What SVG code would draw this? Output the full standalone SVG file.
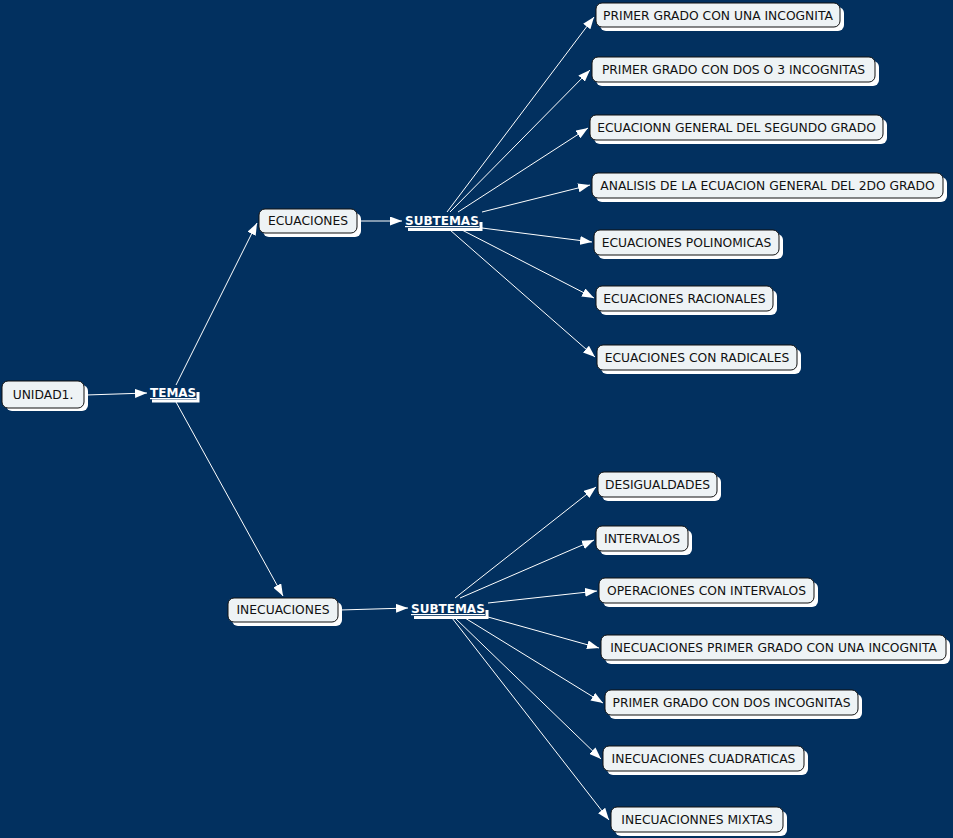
<svg xmlns="http://www.w3.org/2000/svg" width="953" height="838" viewBox="0 0 953 838">
<defs>
<marker id="ah" markerWidth="12" markerHeight="9" refX="12" refY="4.5" orient="auto" markerUnits="userSpaceOnUse">
<path d="M0,0 L12,4.5 L0,9 z" fill="#ffffff"/>
</marker>
<style>
.sh{fill:#ffffff}
.bx{fill:#eef3f5;stroke:#111111;stroke-width:1}
.t{font-family:"DejaVu Sans",Verdana,sans-serif;font-size:12.3px;fill:#111111;text-anchor:middle}
.h{font-family:"DejaVu Sans",Verdana,sans-serif;font-size:12px;font-weight:bold;fill:#ffffff;text-decoration:underline}
.hs{fill:none;stroke:#ffffff;stroke-width:3}
.c line{stroke:#ffffff;stroke-width:1;marker-end:url(#ah)}
</style>
</defs>
<rect width="953" height="838" fill="#02305f"/>
<g class="c" id="connectors">
<line x1="86" y1="395" x2="147" y2="393"/>
<line x1="176" y1="385" x2="257" y2="223"/>
<line x1="176" y1="402" x2="283" y2="596"/>
<line x1="358" y1="221" x2="402" y2="221"/>
<line x1="340" y1="610" x2="408" y2="608"/>
<line x1="447" y1="212" x2="594" y2="17"/>
<line x1="450" y1="212" x2="590" y2="70"/>
<line x1="458" y1="212" x2="588" y2="128"/>
<line x1="482" y1="212" x2="590" y2="185"/>
<line x1="482" y1="228" x2="592" y2="242"/>
<line x1="462" y1="230" x2="594" y2="298"/>
<line x1="450" y1="230" x2="595" y2="357"/>
<line x1="455" y1="598" x2="596" y2="487"/>
<line x1="460" y1="598" x2="594" y2="540"/>
<line x1="488" y1="603" x2="597" y2="591"/>
<line x1="488" y1="617" x2="599" y2="648"/>
<line x1="465" y1="618" x2="603" y2="703"/>
<line x1="455" y1="618" x2="601" y2="759"/>
<line x1="452" y1="618" x2="609" y2="820"/>
</g>
<g id="unidad1"><rect class="sh" x="6" y="385" width="82" height="26" rx="6"/><rect class="bx" x="2" y="381" width="82" height="27" rx="6"/><text class="t" x="43" y="399">UNIDAD1.</text></g>
<g id="temas"><text class="h" x="150" y="397">TEMAS</text><polyline class="hs" points="152,401 198,401 198,392"/></g>
<g id="ecuaciones"><rect class="sh" x="263" y="213" width="98" height="24" rx="6"/><rect class="bx" x="259" y="209" width="98" height="24" rx="6"/><text class="t" x="308" y="225">ECUACIONES</text></g>
<g id="subtemas1"><text class="h" x="405" y="225">SUBTEMAS</text><polyline class="hs" points="408,229.5 481,229.5 481,222"/></g>
<g id="inecuaciones"><rect class="sh" x="232" y="602" width="110" height="24" rx="6"/><rect class="bx" x="228" y="598" width="110" height="24" rx="6"/><text class="t" x="283" y="614">INECUACIONES</text></g>
<g id="subtemas2"><text class="h" x="411" y="613">SUBTEMAS</text><polyline class="hs" points="414,617.5 487,617.5 487,610"/></g>
<g id="n1"><rect class="sh" x="600" y="7" width="244" height="24" rx="6"/><rect class="bx" x="596" y="3" width="244" height="24" rx="6"/><text class="t" x="718" y="19.5">PRIMER GRADO CON UNA INCOGNITA</text></g>
<g id="n2"><rect class="sh" x="596" y="61" width="283" height="25" rx="6"/><rect class="bx" x="592" y="57" width="283" height="25" rx="6"/><text class="t" x="733.5" y="74">PRIMER GRADO CON DOS O 3 INCOGNITAS</text></g>
<g id="n3"><rect class="sh" x="594" y="119" width="293" height="25" rx="6"/><rect class="bx" x="590" y="115" width="293" height="25" rx="6"/><text class="t" x="736.5" y="132">ECUACIONN GENERAL DEL SEGUNDO GRADO</text></g>
<g id="n4"><rect class="sh" x="596" y="177" width="351" height="25" rx="6"/><rect class="bx" x="592" y="173" width="351" height="25" rx="6"/><text class="t" x="767.5" y="190">ANALISIS DE LA ECUACION GENERAL DEL 2DO GRADO</text></g>
<g id="n5"><rect class="sh" x="598" y="234" width="185" height="25" rx="6"/><rect class="bx" x="594" y="230" width="185" height="25" rx="6"/><text class="t" x="686.5" y="247">ECUACIONES POLINOMICAS</text></g>
<g id="n6"><rect class="sh" x="600" y="290" width="177" height="25" rx="6"/><rect class="bx" x="596" y="286" width="177" height="25" rx="6"/><text class="t" x="684.5" y="303">ECUACIONES RACIONALES</text></g>
<g id="n7"><rect class="sh" x="601" y="349" width="200" height="25" rx="6"/><rect class="bx" x="597" y="345" width="200" height="25" rx="6"/><text class="t" x="697" y="362">ECUACIONES CON RADICALES</text></g>
<g id="m1"><rect class="sh" x="602" y="476" width="119" height="25" rx="6"/><rect class="bx" x="598" y="472" width="119" height="25" rx="6"/><text class="t" x="657.5" y="489">DESIGUALDADES</text></g>
<g id="m2"><rect class="sh" x="600" y="530" width="92" height="25" rx="6"/><rect class="bx" x="596" y="526" width="92" height="25" rx="6"/><text class="t" x="642" y="543">INTERVALOS</text></g>
<g id="m3"><rect class="sh" x="603" y="582" width="215" height="25" rx="6"/><rect class="bx" x="599" y="578" width="215" height="25" rx="6"/><text class="t" x="706.5" y="595">OPERACIONES CON INTERVALOS</text></g>
<g id="m4"><rect class="sh" x="605" y="639" width="345" height="25" rx="6"/><rect class="bx" x="601" y="635" width="345" height="25" rx="6"/><text class="t" x="773.5" y="652">INECUACIONES PRIMER GRADO CON UNA INCOGNITA</text></g>
<g id="m5"><rect class="sh" x="609" y="694" width="253" height="25" rx="6"/><rect class="bx" x="605" y="690" width="253" height="25" rx="6"/><text class="t" x="731.5" y="707">PRIMER GRADO CON DOS INCOGNITAS</text></g>
<g id="m6"><rect class="sh" x="607" y="750" width="201" height="25" rx="6"/><rect class="bx" x="603" y="746" width="201" height="25" rx="6"/><text class="t" x="703.5" y="763">INECUACIONES CUADRATICAS</text></g>
<g id="m7"><rect class="sh" x="615" y="811" width="172" height="25" rx="6"/><rect class="bx" x="611" y="807" width="172" height="25" rx="6"/><text class="t" x="697" y="824">INECUACIONNES MIXTAS</text></g>
</svg>
